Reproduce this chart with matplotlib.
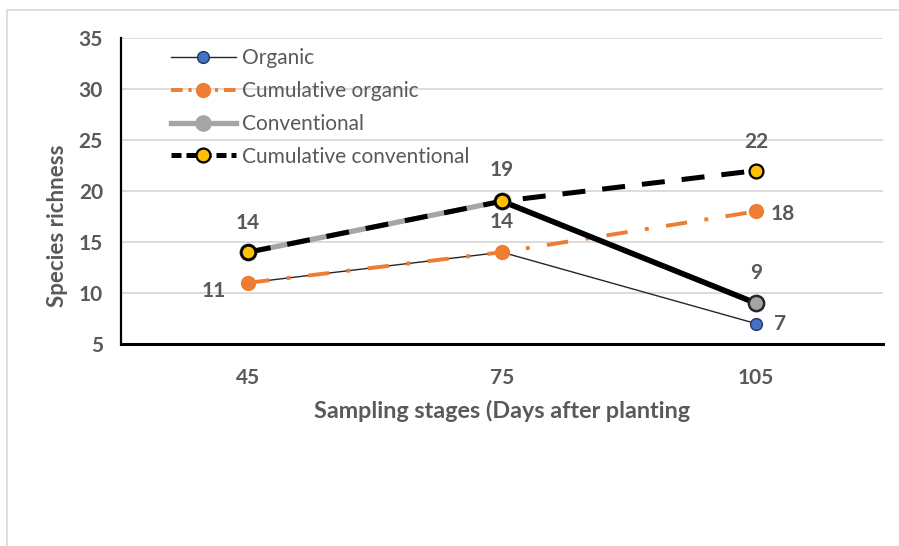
import matplotlib
matplotlib.use("Agg")
import matplotlib.pyplot as plt
from matplotlib.patches import Rectangle
from matplotlib.lines import Line2D

# ---- data ----
stages = ["45", "75", "105"]
organic = [11, 14, 7]
cum_organic = [11, 14, 18]
conventional = [14, 19, 9]
cum_conventional = [14, 19, 22]
series_names = ["Organic", "Cumulative organic", "Conventional", "Cumulative conventional"]
y_ticks = [5, 10, 15, 20, 25, 30, 35]
x_title = "Sampling stages (Days after planting"
y_title = "Species richness"

plt.rcParams['font.family'] = ['Lato', 'DejaVu Sans']
TXT = "#595959"
FS = 15

fig = plt.figure(figsize=(8.99, 5.46), dpi=100)
W, H = 899, 546
ax = fig.add_axes([121 / W, 1 - 344 / H, (883 - 121) / W, (344 - 38) / H])

x = list(range(len(stages)))

# chart-area border (light gray), cut off at right/bottom
fig.patches.append(Rectangle((7 / W, -0.05), 1.1, 1 - 10 / H + 0.05, transform=fig.transFigure,
                             fill=False, edgecolor="#D9D9D9", linewidth=1.2))

# Organic
ax.plot(x, organic, color="#262626", lw=1.0, marker="o", ms=8.5, mfc="#4472C4",
        mec="#1F3864", mew=1.0, zorder=3)
# Cumulative organic
ax.plot(x, cum_organic, color="#ED7D31", lw=2.8, dashes=(5.5, 4.5, 1, 4.5),
        marker="o", ms=10, mfc="#ED7D31", mec="#ED7D31", zorder=4)
# Conventional (gray; last segment drawn black)
ax.plot(x, conventional, color="#A5A5A5", lw=3.8, zorder=5, solid_capstyle="butt")
ax.plot(x[1:], conventional[1:], color="black", lw=4.0, zorder=5)
ax.plot(x, conventional, lw=0, marker="o", ms=11, mfc="#A5A5A5", mec="#262626", mew=1.8, zorder=6)
# Cumulative conventional
ax.plot(x, cum_conventional, color="black", lw=3.6, dashes=(4.6, 3.4),
        marker="o", ms=10, mfc="#FFC000", mec="black", mew=1.6, zorder=7)

# data labels: (series, index, offset px)
label_specs = [
    (organic, 0, (-34, -8)), (organic, 1, (0, 30)), (organic, 2, (24, 0)),
    (cum_organic, 2, (27, -3)),
    (conventional, 0, (0, 29)), (conventional, 1, (0, 31)), (conventional, 2, (0, 30)),
    (cum_conventional, 2, (0, 29)),
]
for ser, i, off in label_specs:
    ax.annotate(str(ser[i]), (x[i], ser[i]), xytext=off, textcoords="offset pixels",
                ha="center", va="center", fontsize=FS, fontweight="bold", color=TXT, zorder=10)

ax.set_xlim(-0.5, 2.5)
ax.set_ylim(5, 35)
ax.set_yticks(y_ticks)
ax.set_xticks(x)
ax.set_xticklabels(stages)
ax.grid(axis="y", color="#D9D9D9", lw=1.3, zorder=0)
ax.set_axisbelow(True)
for s in ["top", "right"]:
    ax.spines[s].set_visible(False)
ax.spines["left"].set_linewidth(1.6)
ax.spines["bottom"].set_linewidth(2.2)
ax.spines["left"].set_color("black")
ax.spines["bottom"].set_color("black")
ax.tick_params(length=0, labelsize=FS, labelcolor=TXT)
ax.tick_params(axis="y", pad=13)
ax.tick_params(axis="x", pad=17)
for t in ax.get_xticklabels() + ax.get_yticklabels():
    t.set_fontweight("bold")

ax.set_xlabel(x_title, fontsize=16.8, fontweight="bold", color=TXT, labelpad=9)
ax.set_ylabel(y_title, fontsize=16, fontweight="bold", color=TXT)
ax.yaxis.set_label_coords((68 - 121) / 762, 1 - (226 - 38) / 306)

handles = [
    Line2D([], [], color="#262626", lw=1.0, marker="o", ms=8.5, mfc="#4472C4", mec="#1F3864"),
    Line2D([], [], color="#ED7D31", lw=2.8, dashes=(3, 1.5, 0.8, 1.5), marker="o", ms=10,
           mfc="#ED7D31", mec="#ED7D31"),
    Line2D([], [], color="#A5A5A5", lw=3.8, marker="o", ms=11, mfc="#A5A5A5", mec="#A5A5A5"),
    Line2D([], [], color="black", lw=3.6, dashes=(2, 1), marker="o", ms=10,
           mfc="#FFC000", mec="black", mew=1.6),
]
leg = ax.legend(handles, series_names, loc="upper left", bbox_to_anchor=(50 / 762, 1 - 10 / 306),
                frameon=False, fontsize=FS, handlelength=3.1, handletextpad=0.3,
                labelspacing=0.62, borderpad=0, borderaxespad=0)
for t in leg.get_texts():
    t.set_color(TXT)

fig.savefig("out.png", dpi=100)
